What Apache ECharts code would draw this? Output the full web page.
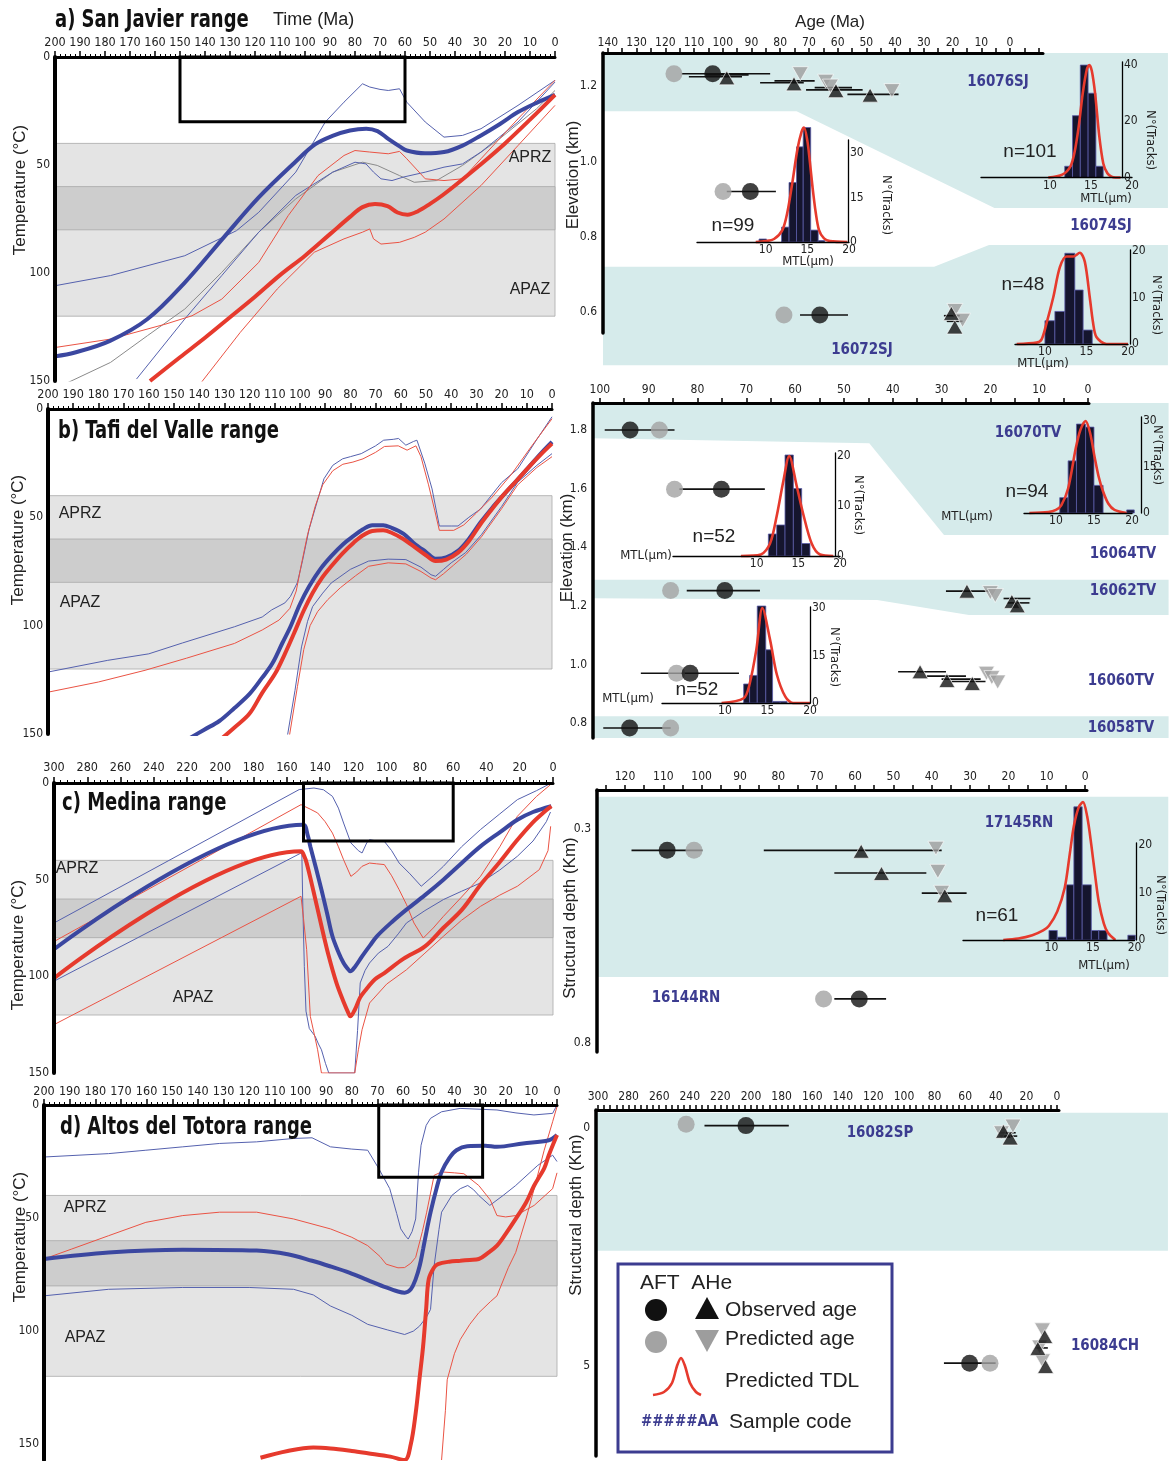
<!DOCTYPE html>
<html>
<head>
<meta charset="utf-8">
<script src="https://cdn.jsdelivr.net/npm/echarts@6/dist/echarts.min.js"></script>
<style>
html, body { margin: 0; padding: 0; background: #fff; }
#chart { width: 1171px; height: 1461px; }
</style>
</head>
<body>
<div id="chart"></div>
<script>
var FONT = "'Liberation Sans Narrow', 'DejaVu Sans Condensed', 'Liberation Sans', sans-serif";
var FONT_REG = "'Liberation Sans', 'DejaVu Sans', sans-serif";
var BLUE = '#3b47a0', BLUE_THIN = '#5561ae', RED = '#e63a2d', RED_THIN = '#ea5344', GRAY_LINE = '#8a8a8a';
var NAVY = '#3c3c90', CYAN = '#d6ebeb', BAND_LIGHT = '#e4e4e4', BAND_DARK = '#cdcdcd';

// ---------- left panels: time (Ma) vs temperature (°C) ----------
var zoneBands = [[40, 120, 0], [60, 80, 1]];   // APAZ/APRZ limits, darker core

// a) San Javier
var aBlueFit = [[200,138.6],[192,136.8],[178,131.4],[163,121.3],[148,104.3],[133,84.2],[118.5,65],[104,48.7],[96,40.5],[89,36.5],[82,34],[75.5,33.2],[71,34.3],[66.7,37.9],[62,41.5],[59.3,43.3],[52,44.6],[44.4,44],[37,41],[29.6,36.3],[22,31],[14.8,25.5],[7,21],[0,17.5]];
var aRedFit = [[162,150],[150,139],[140,130],[130,120.5],[120,111],[110,101],[100,92],[90,82],[82,74],[77,69.5],[72,68],[67,69],[63,72],[59,73],[55,71.5],[50,68],[45,64],[40,59.5],[30,50],[20,40],[10,29],[0,17.5]];
var aBlueHi = [[200,105.9],[177.8,101.2],[148.1,92],[127.4,80.4],[118.5,71.9],[103.7,53.3],[91.9,30.1],[84.4,20.9],[77,12.4],[74.1,13.9],[70,15],[66.7,15.5],[62.2,14.7],[59.3,20.9],[51.9,30.1],[44.4,37.1],[37,36.3],[29.6,33.2],[14.8,22.4],[0,10.8]];
var aBlueLo = [[167.4,149.1],[148.1,121.3],[133.3,101.2],[118.5,81.1],[103.7,64.1],[88.9,53.3],[80,48.7],[75.6,49.5],[72.6,53.3],[69.6,56.4],[65.2,57.2],[60.7,55.6],[51.9,53.3],[44.4,51],[37,49.5],[29.6,44],[14.8,30.1],[0,11.6]];
var aGray = [[194.8,150.7],[177.8,141.4],[163,129],[148.1,116.7],[133.3,99.7],[118.5,81.1],[103.7,65.7],[88.9,53.3],[77,48.7],[71.1,50.2],[62.2,54.9],[56.3,58],[47.4,57.2],[37,50.2],[22.2,37.9],[7.4,24],[0,15.5]];
var aRedHi = [[200,134.5],[177.8,130.6],[155.6,123.6],[145.2,119.8],[133.3,112.1],[118.5,95.1],[106.7,73.4],[94.8,54.9],[84.4,45.6],[80,43.3],[74.1,44],[66.7,44.8],[62.2,43.7],[59.3,47.1],[51.9,56.4],[44.4,57.2],[37,56.4],[29.6,47.1],[14.8,28.6],[0,10.8]];
var aRedLo = [[141.5,150.7],[125.9,127.5],[111.1,107.4],[96.3,90.4],[84.4,84.2],[77,81.1],[74.1,79.6],[72.6,84.2],[69.6,86.6],[62.2,85.8],[56.3,83.5],[51.9,81.1],[44.4,75],[29.6,59.5],[14.8,41],[0,22.4]];
var aBox = [150, 60, 0, 30];

// b) Tafi del Valle
var bBlueFit = [[145.3,153],[138,148],[132,144],[126,138],[120,131.5],[115,124],[111,117.5],[107,108],[103.8,100.5],[100,90],[96.4,81.9],[92,74],[87.6,67.9],[83,62.5],[78.7,58.6],[75,55.5],[71.3,53.6],[67,53.6],[63.9,54.7],[59,57.5],[55,61.7],[50,66],[46.2,69.1],[42,68.5],[37.3,65.5],[33,60],[28.4,52.4],[24,46],[19.5,40],[14,33],[9.2,26.8],[4,20],[0,15.2]];
var bRedFit = [[132,153],[126,147],[120.1,140.7],[115,131],[109.8,122],[106,113],[102.4,103.6],[98.5,93],[95,84.9],[91,77.5],[87.6,72.6],[83,66.5],[78.7,61.7],[75,58.3],[71.3,56.3],[67,56],[63.9,57],[59,60],[55,63.3],[50,67.5],[46.2,70.2],[42,69.5],[37.3,66.3],[33,61],[28.4,53.2],[24,46.5],[19.5,40],[14,33],[9.2,26.8],[4,20.5],[0,16]];
var bBlueHi = [[200,121.4],[176.3,116],[160,113],[146.7,108],[126,100.5],[115,96],[111.2,92.7],[106,89.5],[103.8,86.5],[101,80],[99,70],[96.4,55.5],[93,42],[90.5,32.2],[87,26],[83.1,23],[80,22],[75.7,20.6],[70,17],[66.8,14.4],[63,14],[60.9,13.6],[58,16.7],[55,15],[53.6,14.4],[50.5,25],[47.6,36.9],[44.7,54],[40,54],[37.3,54],[33,50],[28.4,46.2],[20,34],[13.6,27.6],[6,14],[0,3.6]];
var bRedHi = [[200,130.7],[180,126],[161.5,120.6],[145,115],[126,108.2],[115,102],[108.3,97.4],[104,92],[101.5,84],[99.5,72],[97,58],[94,45],[91,35],[87,28.5],[83,25.5],[79,24.5],[75,23],[70,20],[66.5,17.3],[61,17],[57.5,19],[54,17],[52,22],[49,35],[46.5,47],[44.7,56],[39,56],[35,53.5],[30,48],[24,41],[16,30],[8,17],[0,4.5]];
var bBlueLo = [[105.3,153],[102,130],[99.4,109.8],[97,98],[95,91.2],[91,85],[87.6,80.3],[80,74],[72.8,70.2],[65,69.3],[58,69.5],[52,73],[48,76.5],[46.2,77.2],[43,74],[40,71],[34.3,66.3],[28,58],[20,45],[13.6,33.8],[6,26],[0,20.6]];
var bRedLo = [[104.5,153],[101,128],[98.5,111],[96,100],[93,93.5],[89,88],[84,82.5],[78,77],[72.8,72.6],[65,71],[58,71.5],[52,75],[48,78],[46.2,78.8],[43,76],[39,72],[34,67],[28,59],[20,46],[13.6,35],[6,27],[0,22]];

// c) Medina
var cBlueFit = [[300,86],[150.3,21.6],[147.5,27],[145.9,32.8],[142.5,44],[139.2,55.2],[135.8,67.5],[132.6,79.3],[129,87.5],[125.9,93.1],[123.5,96],[121.9,97.4],[119,95],[114.8,89.7],[110,84],[105.9,79.3],[97,72],[88.1,65.5],[77,58],[65.9,50],[55,41.5],[43.6,32.8],[32,25.5],[21.4,19],[12,15],[1,12]];
var cRedFit = [[300,101],[151.5,35.3],[149.5,38],[148.1,41.4],[144,56],[139.2,74],[135,89],[130.2,103.4],[126,113],[123,119],[121.9,120.7],[119,117],[116,111],[112.5,106.9],[107,101.5],[101.4,98.3],[90,91],[77,84.5],[66,75],[54.7,65.5],[43,52],[32.5,41.4],[22,30],[12.5,20.7],[6,15.5],[1,12]];
var cBlueHi = [[300,72.4],[152.6,3.4],[143.7,2.6],[138,3.5],[132.6,6.9],[129,13],[125.9,20.7],[121.5,31],[117,35],[114.8,36.2],[112,31],[110.3,29.3],[106,30],[101.4,30.2],[97,35],[92.5,41.4],[86,47],[79.2,53.4],[72,48],[65.9,43.1],[55,33],[43.6,24.1],[32,16],[21.4,8.6],[10,4],[1,0]];
var cBlueLo = [[300,102.5],[151,36],[150.5,60],[149.5,95],[148.5,118],[146.5,127],[143,131],[141,135],[139.2,138],[136.8,145],[134.8,150],[119.2,150],[117.5,128],[115.9,103.4],[113,97],[110.3,93.1],[105,88],[99.2,84.5],[93,78],[88.1,72.4],[77,66],[65.9,60.3],[55,56],[43.6,51.7],[32,45],[21.4,37.9],[12,30],[4,20],[1.5,15]];
var cRedHi = [[300,82],[151.5,11.2],[146,13.5],[141.5,15.5],[137,20],[132.6,25.9],[129,33],[125.9,39.7],[121.5,48.3],[118,46],[114.8,43.1],[110.3,41.4],[106,41.8],[101.4,42.2],[97,48],[92.5,55.2],[88,63],[83.6,72.4],[78,80.2],[72,75],[65.9,69],[55,59],[43.6,48.3],[32,33],[21.4,17.2],[10,7],[1.6,0.9]];
var cRedLo = [[300,125],[151.5,58.6],[150,70],[148.1,86.2],[145.9,120.7],[143,132],[141.5,138],[139.2,150],[119.2,150],[117,138],[114.8,127.6],[110.3,113.8],[100,104],[88.1,96.6],[77,88],[65.9,79.3],[55,71],[43.6,63.8],[32,58],[21.4,53.4],[8.2,44.8],[3,35],[1.4,22.4]];
var cBox = [150, 60, 0, 30];

// d) Altos del Totora
var dBlueFit = [[200,68.1],[174.8,65.2],[145.9,64],[117.1,64.4],[105,66],[95.5,68.9],[88,71.5],[81,74.1],[74,77.3],[66.6,80.7],[62,82.5],[59.4,83],[57,81.5],[55.1,77],[53.5,71],[52.2,63.7],[50.7,55],[49.3,47.4],[47,37],[45,29.6],[42,23.5],[39.2,20],[35,18.2],[28,18],[23.4,18.5],[13.3,17],[3.2,15.6],[0,13.3]];
var dRedFit = [[115.6,156],[105,153],[95,151.5],[88.3,151.9],[80,153],[73.8,154],[65,155.5],[59.4,157],[57,150],[55.1,136.3],[53.5,120],[52.2,106.7],[51,90],[50,77],[48,72],[46.4,70.4],[42,69.3],[37.7,68.9],[34,68.5],[30.5,68.1],[27,65.5],[23.4,62.2],[20,57],[16.1,50.4],[12,43],[8.9,35.6],[5,28],[3.2,22.2],[0,13.3]];
var dBlueHi = [[200,23],[174.8,21.5],[160.3,20],[145.9,18.5],[131.5,17],[117.1,16.3],[102.7,14.8],[95.5,14.5],[88.3,18.5],[80,19.5],[73.8,20],[69.5,28.1],[65.2,37],[62.5,48],[60.9,54.8],[59,58],[58,59.3],[56.5,56],[55.1,50.4],[54,30],[53,17.8],[51,9],[49.3,5.9],[45,3],[37.8,1.5],[23.4,2.2],[16,3.5],[9,4.4],[1.7,3.7],[0,0]];
var dBlueLo = [[200,84.4],[174.8,81.5],[145.9,80.7],[120,80.7],[102.7,81.5],[95,84],[88.3,88.9],[80,93],[73.8,97],[66,99.5],[59.4,101.5],[56,100],[53.6,97.8],[51,94],[49.3,90.4],[47.9,71.1],[46,55],[45,47.4],[41,40],[37.7,37],[34.8,35.6],[32.5,37.5],[30.5,40],[26.2,44.4],[21,40],[16.1,35.6],[7.5,26.7],[1.7,22.2],[0,25]];
var dRedHi = [[200,68.1],[189.2,63.7],[174.8,57.8],[160.3,51.9],[145.9,48.9],[131.5,47.4],[117.1,47.4],[102.7,50.4],[88.3,54.8],[80,58.5],[73.8,62.2],[69,67],[66.6,70.4],[62,72],[59.4,71.9],[57,70],[55.1,67.4],[52.5,56],[50.8,47.4],[47.9,31.1],[45,29.6],[40,30],[36.3,30.4],[30.5,35.6],[26,42],[23.4,48.9],[20,49.5],[16.1,48.9],[8.9,44.4],[1.7,37],[0,30]];
var dRedLo = [[45,157],[43.5,135],[42.8,121.5],[40,110],[37.7,103.7],[34,97],[30.5,91.9],[26,87],[23.4,84.4],[19,72],[16.1,65.2],[12,50],[8.9,37],[5,20],[1.7,7.4],[0,0.7]];
var dBox = [69.5, 29, 0, 32];

// ---------- right panels: age (Ma) vs elevation / structural depth (km) ----------
var raAgeLabels = [0,10,20,30,40,50,60,70,80,90,100,110,120,130,140];
var rbAgeLabels = [0,10,20,30,40,50,60,70,80,90,100];
var rcAgeLabels = [0,10,20,30,40,50,60,70,80,90,100,110,120];
var rdAgeLabels = [0,20,40,60,80,100,120,140,160,180,200,220,240,260,280,300];
var raElevLabels = [0.6, 0.8, 1.0, 1.2];
var rbElevLabels = [0.8, 1.0, 1.2, 1.4, 1.6, 1.8];
var rcDepthLabels = [0.3, 0.8];
var rdDepthLabels = [0, 5];

// sample bands (age, km)
var raBandTop = [[141.7,1.288],[-55,1.288],[-55,0.876],[5.4,0.876],[74.3,1.133],[141.7,1.133]];
var raBandLow = [[141.7,0.72],[26.4,0.72],[7.3,0.778],[-55,0.778],[-55,0.458],[141.7,0.458]];
var rbBandTop = [[101.4,1.892],[-16.5,1.892],[-16.5,1.442],[29.5,1.442],[44.8,1.755],[101.4,1.772]];
var rbBandMid = [[101.4,1.289],[-16.5,1.289],[-16.5,1.169],[24.4,1.169],[43.2,1.22],[101.4,1.226]];
var rbBandLow = [[101.4,0.823],[-16.5,0.823],[-16.5,0.749],[101.4,0.749]];
var rcBand = [[127.3,0.225],[-21.7,0.225],[-21.7,0.646],[127.3,0.646]];
var rdBand = [[301.3,-0.32],[-72.5,-0.32],[-72.5,2.58],[301.3,2.58]];

// AFT (circles) and AHe (triangles): [age, km]; errors: [from, to, km]
var raAftObs = [[103.5,1.233],[90.4,0.92],[66.2,0.592]];
var raAftPred = [[117,1.233],[99.9,0.92],[78.7,0.592]];
var raAftErr = [[114.3,83.5,1.233],[98.6,81.5,0.92],[73.1,56.4,0.592]];
var raAheObs = [[98.6,1.222],[75.2,1.206],[60.6,1.188],[48.7,1.176],[20.4,0.596],[19.2,0.56]];
var raAhePred = [[73,1.233],[64.2,1.213],[62.5,1.2],[41.1,1.188],[19.2,0.604],[16.5,0.578]];
var raAheErr = [[111.8,93.3,1.225],[106,91,1.23],[87,71.8,1.209],[82,68,1.214],[71,51.3,1.19],[68,55,1.196],[56.6,38.8,1.178],[23,17.5,0.59],[22,16.5,0.575]];

var rbAftObs = [[93.8,1.8],[75.1,1.598],[74.4,1.252],[81.5,0.97],[93.9,0.783]];
var rbAftPred = [[87.8,1.8],[84.7,1.598],[85.5,1.252],[84.3,0.97],[85.5,0.783]];
var rbAftErr = [[99,84.7,1.8],[83.7,66.2,1.598],[82.2,67.2,1.252],[91.6,71.5,0.97],[99.3,85.5,0.783]];
var rbAheObs = [[24.8,1.25],[15.6,1.215],[14.5,1.2],[34.4,0.975],[28.9,0.945],[23.7,0.935]];
var rbAhePred = [[20,1.245],[19,1.235],[20.8,0.97],[19.7,0.955],[18.5,0.94]];
var rbAheErr = [[29.1,20.4,1.25],[17.3,11.8,1.225],[16.5,12,1.21],[38.9,29.1,0.975],[33,25,0.96],[30,22,0.95],[28,21,0.942]];

var rcAftObs = [[109,0.35],[58.9,0.697]];
var rcAftPred = [[102,0.35],[68.2,0.697]];
var rcAftErr = [[118.3,99.8,0.35],[65.4,51.9,0.697]];
var rcAheObs = [[58.4,0.352],[53.1,0.404],[36.6,0.456]];
var rcAhePred = [[38.9,0.345],[38.4,0.399],[37.4,0.448]];
var rcAheErr = [[83.8,37.4,0.35],[65.4,41.4,0.403],[42.6,30.9,0.45]];

var rdAftObs = [[203.3,-0.05],[57.1,4.94]];
var rdAftPred = [[242.4,-0.08],[43.8,4.94]];
var rdAftErr = [[230.4,175.3,-0.05],[73.9,40.1,4.94]];
var rdAheObs = [[35,0.07],[30.6,0.21],[8,4.38],[12.5,4.63],[7.5,5.01]];
var rdAhePred = [[28.8,-0.04],[36.3,0.1],[9.5,4.24],[11.3,4.6],[9.5,4.89]];
var rdAheErr = [[38,27,0.1],[38,26,0.17],[14,6,4.62]];

// track length histograms: bins [from, to, count], TDL curve [µm, count]
var a1Bins = [[11.8,12.75,4],[12.75,13.7,22],[13.7,14.65,40],[14.65,15.6,30],[15.6,16.5,4]];
var a1Curve = [[9.8,0],[11.5,1],[12.5,4],[13,9],[13.5,18],[14,30],[14.5,38.5],[14.8,40],[15.1,38],[15.5,30],[16,15],[16.5,5],[17,1.5],[17.5,0.3],[18,0],[18.6,0]];
var a2Bins = [[9.2,10.1,1],[11.9,12.8,5],[12.8,13.7,20],[13.7,14.5,32],[14.5,15.4,38.5],[15.4,16.3,4],[16.3,17.1,0.5]];
var a2Curve = [[8.8,0],[10,0.3],[11,1],[12,4],[12.6,10],[13.2,20],[13.8,31],[14.3,37],[14.6,38.5],[15,34],[15.3,27],[15.6,19],[16,10],[16.4,4],[17,1.2],[17.7,0.3],[19.8,0]];
var a3Bins = [[10,11.2,5],[11.2,12.4,7],[12.4,13.6,19.5],[13.6,14.6,11.6],[14.6,15.7,3]];
var a3Curve = [[6.6,0],[9,0.3],[9.6,1],[10.2,4.5],[11,10],[11.8,16.5],[12.6,18.8],[13.4,18.8],[14.2,19.6],[14.8,17.7],[15.4,10],[15.8,4.5],[16.2,1.5],[17.4,0],[20,0]];
var b1Bins = [[10.5,11.6,5],[11.6,12.7,17],[12.7,13.9,29],[13.9,15,28],[15,16.2,9],[19.3,20.3,1]];
var b1Curve = [[6.5,0],[9,0.3],[10,1],[10.7,2.5],[11.6,8],[12.6,21],[13.2,27],[13.9,30],[14.5,26],[15.1,18],[15.6,12],[16.2,7],[16.9,3],[17.7,1],[19.3,0]];
var b2Bins = [[11.4,12.4,4.4],[12.4,13.4,6.2],[13.4,14.4,20.2],[14.4,15.4,13.5],[15.4,16.4,2.5]];
var b2Curve = [[8.1,0],[10.5,0.3],[11.6,2.5],[12.4,8],[13.2,15],[13.9,20],[14.8,14],[15.6,8.3],[16.6,2.5],[17.6,0.3],[19.2,0]];
var b3Bins = [[12.2,12.9,6],[12.9,13.8,8.7],[13.8,14.8,30.6],[14.8,15.6,16.8],[15.6,16.5,0.5],[16.5,17.3,0.5]];
var b3Curve = [[9.6,0],[12.2,1.5],[12.9,6],[13.7,17],[14.4,30],[15.3,20],[16.1,9],[17.1,2],[18,0],[20,0]];
var c1Bins = [[9.7,10.7,2],[10.7,11.8,0.6],[11.8,12.7,11.6],[12.7,13.7,28],[13.7,14.8,11.6],[14.8,15.7,2],[15.7,16.7,2],[19.2,20.1,1]];
var c1Curve = [[4.2,0],[6,0.3],[7.7,1],[9,2],[9.7,3],[10.7,6],[11.6,11],[12.2,18],[12.7,24],[13.3,28],[13.8,29],[14.3,26],[14.8,20],[15.3,13],[15.7,8],[16.3,3.5],[16.8,1.5],[17.7,0]];

// ---------- layout ----------
function thick(d, c) { return {data: d, color: c, width: 4, smooth: 0.35, z: 4}; }
function thin(d, c) { return {data: d, color: c, width: 1, smooth: false, z: 3}; }

var leftPanels = [
  {grid: {left: 55, top: 57, width: 500, height: 324}, tmax: 200, step: 10, ymax: 150, margin: 8, box: aBox,
   lines: [thin(aGray, GRAY_LINE), thin(aBlueHi, BLUE_THIN), thin(aBlueLo, BLUE_THIN), thin(aRedHi, RED_THIN), thin(aRedLo, RED_THIN), thick(aBlueFit, BLUE), thick(aRedFit, RED)]},
  {grid: {left: 48, top: 409, width: 504, height: 325}, tmax: 200, step: 10, ymax: 150, margin: 8,
   lines: [thin(bBlueHi, BLUE_THIN), thin(bRedHi, RED_THIN), thin(bBlueLo, BLUE_THIN), thin(bRedLo, RED_THIN), thick(bBlueFit, BLUE), thick(bRedFit, RED)]},
  {grid: {left: 54, top: 783, width: 499, height: 290}, tmax: 300, step: 20, ymax: 150, margin: 9, box: cBox,
   lines: [thin(cBlueHi, BLUE_THIN), thin(cBlueLo, BLUE_THIN), thin(cRedHi, RED_THIN), thin(cRedLo, RED_THIN), thick(cBlueFit, BLUE), thick(cRedFit, RED)]},
  {grid: {left: 44, top: 1105, width: 513, height: 355}, tmax: 200, step: 10, ymax: 157, margin: 7, box: dBox,
   lines: [thin(dBlueHi, BLUE_THIN), thin(dBlueLo, BLUE_THIN), thin(dRedHi, RED_THIN), thin(dRedLo, RED_THIN), thick(dBlueFit, BLUE), thick(dRedFit, RED)]}
];

var rightPanels = [
  {grid: {left: 603, top: 53, width: 440, height: 280}, xmin: -11.5, xmax: 141.7, ymin: 0.544, ymax: 1.288, depth: false, digits: 1,
   xLabels: raAgeLabels, tickStep: 5, yLabels: raElevLabels, margin: 4, bands: [raBandTop, raBandLow],
   aftObs: raAftObs, aftPred: raAftPred, aftErr: raAftErr, aheObs: raAheObs, ahePred: raAhePred, aheErr: raAheErr},
  {grid: {left: 593, top: 403, width: 496, height: 335}, xmin: -0.2, xmax: 101.4, ymin: 0.749, ymax: 1.892, depth: false, digits: 1,
   xLabels: rbAgeLabels, tickStep: 5, yLabels: rbElevLabels, margin: 7, bands: [rbBandTop, rbBandMid, rbBandLow],
   aftObs: rbAftObs, aftPred: rbAftPred, aftErr: rbAftErr, aheObs: rbAheObs, ahePred: rbAhePred, aheErr: rbAheErr},
  {grid: {left: 597, top: 790, width: 490, height: 262}, xmin: -0.5, xmax: 127.3, ymin: 0.209, ymax: 0.821, depth: true, digits: 1,
   xLabels: rcAgeLabels, tickStep: 5, yLabels: rcDepthLabels, margin: 7, bands: [rcBand],
   aftObs: rcAftObs, aftPred: rcAftPred, aftErr: rcAftErr, aheObs: rcAheObs, ahePred: rcAhePred, aheErr: rcAheErr},
  {grid: {left: 596, top: 1110, width: 463, height: 346}, xmin: -1.3, xmax: 301.3, ymin: -0.378, ymax: 6.89, depth: true, digits: 0,
   xLabels: rdAgeLabels, tickStep: 4, yLabels: rdDepthLabels, margin: 7, bands: [rdBand],
   aftObs: rdAftObs, aftPred: rdAftPred, aftErr: rdAftErr, aheObs: rdAheObs, ahePred: rdAhePred, aheErr: rdAheErr}
];

var insets = [
  {grid: {left: 981, top: 62, width: 151, height: 115.5}, xmin: 1.6, ymax: 41.1, yLabels: [0, 20, 40], offset: -10, bins: a1Bins, curve: a1Curve},
  {grid: {left: 697, top: 140, width: 152, height: 102}, xmin: 1.75, ymax: 34.3, yLabels: [0, 15, 30], offset: -1, bins: a2Bins, curve: a2Curve},
  {grid: {left: 1015, top: 250, width: 113, height: 94}, xmin: 6.4, ymax: 20.2, yLabels: [0, 10, 20], offset: 2, bins: a3Bins, curve: a3Curve},
  {grid: {left: 1024, top: 417, width: 108, height: 96}, xmin: 5.8, ymax: 31.3, yLabels: [0, 15, 30], offset: 9, bins: b1Bins, curve: b1Curve},
  {grid: {left: 673, top: 453, width: 167, height: 103}, xmin: -0.05, ymax: 20.6, yLabels: [0, 10, 20], offset: -5, bins: b2Bins, curve: b2Curve},
  {grid: {left: 662, top: 607, width: 148, height: 96}, xmin: 2.6, ymax: 30.3, yLabels: [0, 15, 30], offset: 0, bins: b3Bins, curve: b3Curve},
  {grid: {left: 963, top: 843, width: 171.5, height: 97}, xmin: -0.65, ymax: 20.4, yLabels: [0, 10, 20], offset: 2, bins: c1Bins, curve: c1Curve}
];

var grids = [], xAxes = [], yAxes = [], series = [];

function addGrid(g) {
  grids.push({left: g.left, top: g.top, width: g.width, height: g.height, containLabel: false, outerBoundsMode: 'none'});
  return grids.length - 1;
}

function stepValues(a, b, s) {
  var out = [];
  for (var v = Math.ceil(a / s) * s; v <= b; v += s) out.push(v);
  return out;
}

function renderBand(params, api) {
  var cs = params.coordSys;
  var y0 = api.coord([0, api.value(0)])[1], y1 = api.coord([0, api.value(1)])[1];
  return {type: 'rect', shape: {x: cs.x, y: Math.min(y0, y1), width: cs.width, height: Math.abs(y1 - y0)},
    style: {fill: api.value(2) ? BAND_DARK : BAND_LIGHT, stroke: '#a8a8a8', lineWidth: 0.8}};
}

function renderBox(params, api) {
  var p0 = api.coord([api.value(0), api.value(2)]), p1 = api.coord([api.value(1), api.value(3)]);
  return {type: 'rect', shape: {x: Math.min(p0[0], p1[0]), y: Math.min(p0[1], p1[1]), width: Math.abs(p1[0] - p0[0]), height: Math.abs(p1[1] - p0[1])},
    style: {fill: 'none', stroke: '#000', lineWidth: 3}};
}

function renderErr(params, api) {
  var a = api.coord([api.value(0), api.value(2)]), b = api.coord([api.value(1), api.value(2)]);
  return {type: 'line', shape: {x1: a[0], y1: a[1], x2: b[0], y2: b[1]}, style: {stroke: '#111', lineWidth: 1.6}};
}

function renderBin(params, api) {
  var a = api.coord([api.value(0), api.value(2)]), b = api.coord([api.value(1), 0]);
  return {type: 'rect', shape: {x: a[0], y: a[1], width: b[0] - a[0], height: b[1] - a[1]},
    style: {fill: '#15152e', stroke: '#5a5ca8', lineWidth: 0.8}};
}

leftPanels.forEach(function (p) {
  var gi = addGrid(p.grid);
  xAxes.push({gridIndex: gi, type: 'value', position: 'top', inverse: true, min: 0, max: p.tmax, interval: p.step, z: 10,
    axisLine: {onZero: false, lineStyle: {color: '#000', width: 3}},
    axisTick: {length: 6, lineStyle: {color: '#000', width: 1.5}},
    minorTick: {show: true, splitNumber: 5, length: 3, lineStyle: {color: '#000', width: 1}},
    axisLabel: {fontFamily: FONT, fontSize: 12.5, color: '#222', margin: p.margin, showMinLabel: true, showMaxLabel: true},
    splitLine: {show: false}, minorSplitLine: {show: false}});
  yAxes.push({gridIndex: gi, type: 'value', inverse: true, min: 0, max: p.ymax, z: 10,
    axisLine: {show: true, onZero: false, lineStyle: {color: '#000', width: 4}},
    axisTick: {show: false}, splitLine: {show: false},
    axisLabel: {customValues: [0, 50, 100, 150], fontFamily: FONT, fontSize: 12, color: '#222', margin: 5}});
  series.push({type: 'custom', xAxisIndex: gi, yAxisIndex: gi, data: zoneBands, renderItem: renderBand, z: 1, silent: true});
  p.lines.forEach(function (l) {
    series.push({type: 'line', xAxisIndex: gi, yAxisIndex: gi, data: l.data, showSymbol: false, smooth: l.smooth,
      lineStyle: {color: l.color, width: l.width}, z: l.z, silent: true});
  });
  if (p.box) series.push({type: 'custom', xAxisIndex: gi, yAxisIndex: gi, data: [p.box], renderItem: renderBox, z: 5, silent: true});
});

rightPanels.forEach(function (p) {
  var gi = addGrid(p.grid);
  xAxes.push({gridIndex: gi, type: 'value', position: 'top', inverse: true, min: p.xmin, max: p.xmax, z: 10,
    axisLine: {onZero: false, lineStyle: {color: '#000', width: 3}},
    axisTick: {customValues: stepValues(p.xmin, p.xmax, p.tickStep), length: 5, lineStyle: {color: '#000', width: 1.5}},
    axisLabel: {customValues: p.xLabels, fontFamily: FONT, fontSize: 12, color: '#222', margin: p.margin},
    splitLine: {show: false}});
  yAxes.push({gridIndex: gi, type: 'value', inverse: p.depth, min: p.ymin, max: p.ymax, z: 10,
    axisLine: {show: true, onZero: false, lineStyle: {color: '#000', width: 3.5}},
    axisTick: {show: false},
    axisLabel: {customValues: p.yLabels, fontFamily: FONT, fontSize: 12, color: '#222', margin: 6,
      formatter: function (v) { return v.toFixed(p.digits); }},
    splitLine: {show: false}});
  series.push({type: 'custom', xAxisIndex: gi, yAxisIndex: gi, clip: false, z: 0, silent: true,
    data: p.bands.map(function (b, k) { return [k]; }),
    renderItem: function (params, api) {
      var poly = p.bands[params.dataIndex];
      return {type: 'polygon', shape: {points: poly.map(function (pt) { return api.coord(pt); })}, style: {fill: CYAN}};
    }});
  series.push({type: 'custom', xAxisIndex: gi, yAxisIndex: gi, data: p.aftErr.concat(p.aheErr), renderItem: renderErr, clip: false, z: 2, silent: true});
  series.push({type: 'scatter', xAxisIndex: gi, yAxisIndex: gi, data: p.aftPred, symbol: 'circle', symbolSize: 17, itemStyle: {color: '#a3a3a3'}, z: 3, silent: true});
  series.push({type: 'scatter', xAxisIndex: gi, yAxisIndex: gi, data: p.aftObs, symbol: 'circle', symbolSize: 17, itemStyle: {color: '#111'}, z: 4, silent: true});
  series.push({type: 'scatter', xAxisIndex: gi, yAxisIndex: gi, data: p.ahePred, symbol: 'triangle', symbolRotate: 180, symbolSize: [16, 14],
    itemStyle: {color: '#9d9d9d', borderColor: '#fff', borderWidth: 0.8}, z: 3, silent: true});
  series.push({type: 'scatter', xAxisIndex: gi, yAxisIndex: gi, data: p.aheObs, symbol: 'triangle', symbolSize: [16, 14],
    itemStyle: {color: '#111', borderColor: '#fff', borderWidth: 0.8}, z: 4, silent: true});
});

insets.forEach(function (h) {
  var gi = addGrid(h.grid);
  xAxes.push({gridIndex: gi, type: 'value', position: 'bottom', min: h.xmin, max: 20, z: 10,
    axisLine: {onZero: false, lineStyle: {color: '#000', width: 1.3}}, axisTick: {show: false},
    axisLabel: {customValues: [10, 15, 20], fontFamily: FONT, fontSize: 12, color: '#222', margin: 2},
    splitLine: {show: false}});
  yAxes.push({gridIndex: gi, type: 'value', position: 'right', offset: h.offset, min: 0, max: h.ymax, z: 10,
    axisLine: {show: true, onZero: false, lineStyle: {color: '#000', width: 1.3}}, axisTick: {show: false},
    axisLabel: {customValues: h.yLabels, fontFamily: FONT, fontSize: 12, color: '#222', margin: 2},
    splitLine: {show: false}});
  series.push({type: 'custom', xAxisIndex: gi, yAxisIndex: gi, data: h.bins, renderItem: renderBin, clip: false, z: 6, silent: true});
  series.push({type: 'line', xAxisIndex: gi, yAxisIndex: gi, data: h.curve, smooth: 0.3, showSymbol: false, clip: false,
    lineStyle: {color: RED, width: 2.6}, z: 7, silent: true});
});

// ---------- texts ----------
var texts = [];
function txt(x, y, s, size, opt) {
  opt = opt || {};
  texts.push({type: 'text', x: x, y: y, rotation: opt.rot || 0, scaleX: opt.sx || 1, silent: true, z: 100,
    style: {text: s, fontSize: size, fontFamily: opt.font || FONT_REG, fontWeight: opt.bold ? 'bold' : 'normal',
      fill: opt.color || '#222', align: opt.align || 'center', verticalAlign: 'middle'}});
}

var titleStyle = {font: FONT, bold: true, align: 'left', color: '#111', sx: 0.8};
txt(55, 20, 'a) San Javier range', 25, titleStyle);
txt(273, 20, 'Time (Ma)', 18, {align: 'left'});
txt(58, 431, 'b) Tafi del Valle range', 25, titleStyle);
txt(62, 803, 'c) Medina range', 25, titleStyle);
txt(60, 1127, 'd) Altos del Totora range', 25, titleStyle);
txt(830, 22, 'Age (Ma)', 17);

[[20, 190], [18, 540], [18, 945], [20, 1237]].forEach(function (p) { txt(p[0], p[1], 'Temperature (°C)', 17, {rot: Math.PI / 2}); });
txt(573, 175, 'Elevation (km)', 17, {rot: Math.PI / 2});
txt(567, 548, 'Elevation (km)', 17, {rot: Math.PI / 2});
txt(570, 918, 'Structural depth (Km)', 17, {rot: Math.PI / 2});
txt(576, 1215, 'Structural depth (Km)', 17, {rot: Math.PI / 2});

[[530, 158, 'APRZ'], [530, 290, 'APAZ'], [80, 514, 'APRZ'], [80, 603, 'APAZ'], [77, 869, 'APRZ'], [193, 998, 'APAZ'], [85, 1208, 'APRZ'], [85, 1338, 'APAZ']]
  .forEach(function (p) { txt(p[0], p[1], p[2], 16); });

[[998, 82, '16076SJ'], [1101, 226, '16074SJ'], [862, 350, '16072SJ'], [1028, 433, '16070TV'], [1123, 554, '16064TV'],
 [1123, 591, '16062TV'], [1121, 681, '16060TV'], [1121, 728, '16058TV'], [1019, 823, '17145RN'], [686, 998, '16144RN'],
 [880, 1133, '16082SP'], [1105, 1346, '16084CH']]
  .forEach(function (p) { txt(p[0], p[1], p[2], 15, {font: FONT, bold: true, color: NAVY}); });

[[1030, 152, 'n=101'], [733, 226, 'n=99'], [1023, 285, 'n=48'], [1027, 492, 'n=94'], [714, 537, 'n=52'], [697, 690, 'n=52'], [997, 916, 'n=61']]
  .forEach(function (p) { txt(p[0], p[1], p[2], 19); });

[[1106, 199], [808, 262], [1043, 364], [967, 517], [646, 556], [628, 699], [1104, 966]]
  .forEach(function (p) { txt(p[0], p[1], 'MTL(µm)', 13, {font: FONT}); });
[[1150, 140], [886, 205], [1156, 305], [1157, 455], [858, 505], [834, 657], [1160, 905]]
  .forEach(function (p) { txt(p[0], p[1], 'N°(Tracks)', 13, {font: FONT, rot: -Math.PI / 2}); });

// legend box
var legend = [
  {type: 'rect', shape: {x: 618, y: 1264, width: 274, height: 188}, style: {fill: '#fff', stroke: NAVY, lineWidth: 3}, z: 90, silent: true},
  {type: 'circle', shape: {cx: 656, cy: 1310, r: 11}, style: {fill: '#111'}, z: 95, silent: true},
  {type: 'polygon', shape: {points: [[707, 1297], [695, 1319], [719, 1319]]}, style: {fill: '#111'}, z: 95, silent: true},
  {type: 'circle', shape: {cx: 656, cy: 1342, r: 11}, style: {fill: '#a3a3a3'}, z: 95, silent: true},
  {type: 'polygon', shape: {points: [[695, 1330], [719, 1330], [707, 1352]]}, style: {fill: '#9d9d9d'}, z: 95, silent: true},
  {type: 'polyline', shape: {points: [[653, 1395], [664, 1392], [672, 1383], [677, 1366], [681, 1358], [685, 1366], [690, 1383], [696, 1392], [701, 1395]], smooth: 0.3},
   style: {stroke: RED, lineWidth: 2.6, fill: 'none'}, z: 95, silent: true}
];
txt(640, 1283, 'AFT  AHe', 21, {align: 'left'});
txt(725, 1310, 'Observed age', 21, {align: 'left'});
txt(725, 1339, 'Predicted age', 21, {align: 'left'});
txt(725, 1381, 'Predicted TDL', 21, {align: 'left'});
txt(641, 1422, '#####AA', 15, {font: FONT, bold: true, color: NAVY, align: 'left'});
txt(729, 1422, 'Sample code', 21, {align: 'left'});

var chart = echarts.init(document.getElementById('chart'), null, {renderer: 'canvas'});
chart.setOption({
  backgroundColor: '#fff',
  animation: false,
  grid: grids,
  xAxis: xAxes,
  yAxis: yAxes,
  series: series,
  graphic: {elements: legend.concat(texts)}
});
</script>
</body>
</html>
